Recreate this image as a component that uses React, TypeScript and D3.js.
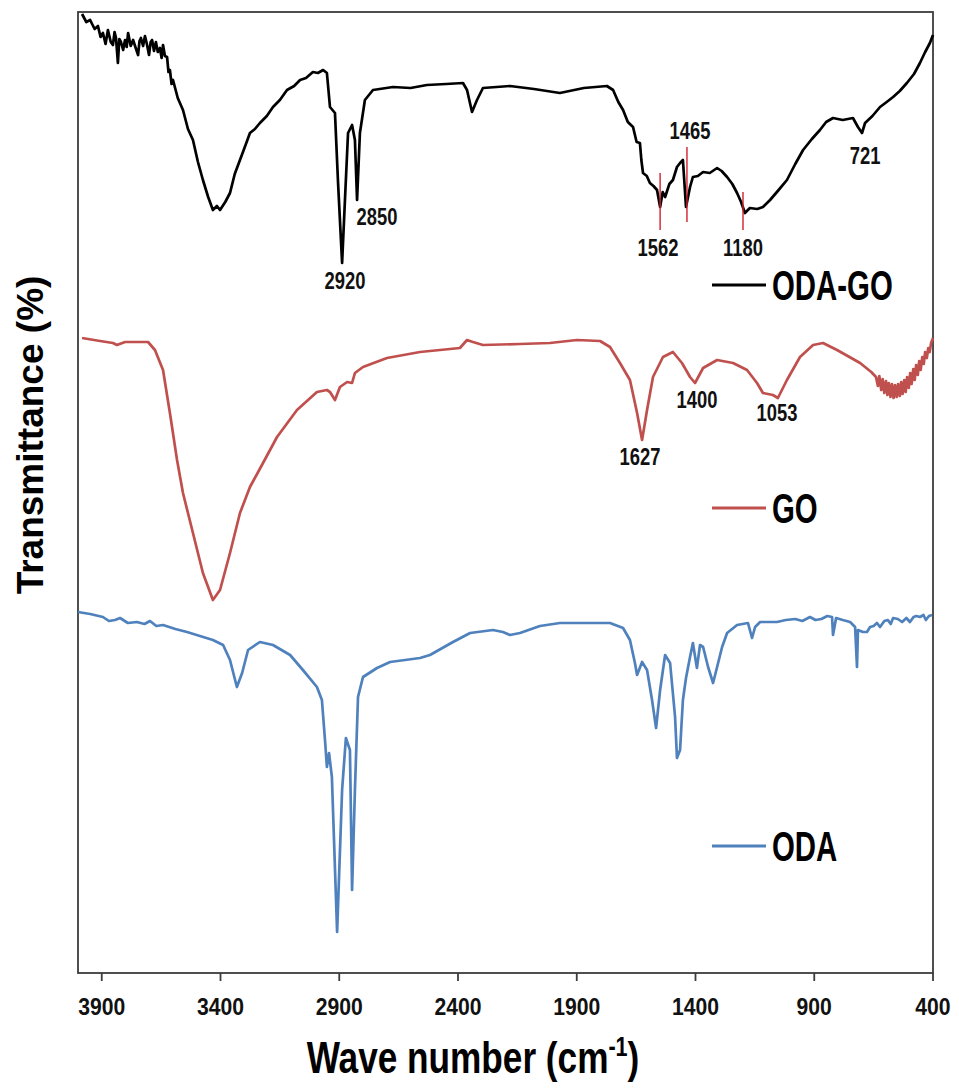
import * as d3 from "d3";

// wavenumber (cm-1), transmittance (offset, arbitrary units)
const odaGo: [number, number][] = [
  [3983, 95.8], [3965, 95.0], [3949, 95.2], [3930, 94.3], [3916, 94.6], [3905, 93.5],
  [3895, 93.9], [3884, 92.8], [3874, 94.2], [3862, 93.0], [3853, 92.7], [3846, 94.0],
  [3840, 93.4], [3832, 90.9], [3826, 93.3], [3819, 93.0], [3810, 92.2], [3802, 93.2],
  [3795, 92.5], [3789, 93.9], [3778, 92.6], [3768, 93.2], [3757, 92.4], [3747, 91.7],
  [3741, 93.1], [3735, 93.4], [3726, 92.6], [3718, 93.6], [3710, 92.8], [3701, 91.7],
  [3694, 93.0], [3688, 93.2], [3680, 92.1], [3672, 93.0], [3664, 92.0], [3655, 92.4],
  [3648, 91.4], [3642, 92.7], [3634, 91.6], [3625, 91.5], [3619, 90.0], [3613, 90.2],
  [3606, 88.8], [3600, 89.2], [3580, 87.4], [3558, 86.2], [3537, 84.3], [3516, 83.2],
  [3495, 81.0], [3474, 79.2], [3452, 77.5], [3432, 76.2], [3415, 76.6], [3402, 76.2],
  [3380, 77.0], [3360, 77.9], [3340, 79.8], [3318, 81.2], [3296, 82.6], [3276, 83.9],
  [3255, 84.3], [3234, 84.9], [3205, 85.6], [3179, 86.5], [3150, 87.2], [3120, 88.2],
  [3090, 88.6], [3065, 89.2], [3040, 89.4], [3011, 90.0], [2990, 89.9], [2968, 90.2],
  [2952, 89.9], [2939, 86.5], [2918, 85.9], [2905, 78.9], [2888, 70.9], [2876, 77.2],
  [2863, 83.9], [2846, 84.7], [2834, 83.2], [2825, 77.2], [2813, 83.9], [2792, 87.2],
  [2758, 88.2], [2674, 88.5], [2600, 88.4], [2531, 88.7], [2450, 88.8], [2379, 88.9],
  [2362, 88.2], [2341, 86.0], [2320, 87.2], [2295, 88.4], [2181, 88.6], [2080, 88.3],
  [1971, 87.9], [1870, 88.4], [1773, 88.6], [1747, 88.2], [1725, 87.0], [1705, 86.2],
  [1685, 85.0], [1663, 84.5], [1648, 83.0], [1634, 82.9], [1628, 81.2], [1621, 79.9],
  [1605, 79.6], [1592, 78.9], [1577, 78.6], [1562, 78.2], [1549, 76.5], [1538, 78.0],
  [1528, 77.5], [1510, 78.8], [1495, 79.2], [1478, 80.5], [1465, 80.9], [1453, 81.2],
  [1440, 76.5], [1423, 78.5], [1411, 79.5], [1390, 79.6], [1368, 80.0], [1340, 79.9],
  [1309, 80.4], [1290, 80.1], [1267, 79.5], [1245, 78.8], [1225, 77.9], [1208, 77.0],
  [1192, 75.9], [1171, 76.4], [1140, 76.3], [1116, 76.5], [1086, 77.2], [1050, 78.2],
  [1015, 79.2], [980, 80.8], [947, 82.2], [910, 83.3], [876, 84.2], [850, 85.0],
  [821, 85.4], [780, 85.2], [737, 85.4], [716, 84.5], [699, 83.9], [686, 84.9],
  [655, 85.6], [623, 86.5], [595, 87.0], [568, 87.5], [540, 88.1], [510, 88.9],
  [480, 89.8], [455, 90.9], [433, 92.0], [413, 92.9], [400, 93.7],
];

const go: [number, number][] = [
  [3983, 63.4], [3907, 63.1], [3853, 62.9], [3836, 62.7], [3802, 63.0], [3752, 63.0],
  [3705, 63.0], [3676, 62.2], [3642, 60.2], [3613, 55.9], [3583, 51.2], [3558, 47.9],
  [3516, 43.9], [3474, 39.9], [3432, 37.2], [3402, 38.2], [3360, 41.9], [3318, 45.9],
  [3276, 48.5], [3221, 50.9], [3162, 53.5], [3078, 56.2], [2994, 58.0], [2952, 58.2],
  [2939, 58.0], [2918, 57.2], [2897, 58.5], [2867, 59.0], [2846, 58.9], [2834, 59.9],
  [2800, 60.5], [2699, 61.4], [2560, 62.0], [2392, 62.4], [2362, 63.2], [2337, 63.0],
  [2295, 62.7], [2139, 62.8], [2013, 62.9], [1899, 63.2], [1802, 63.1], [1760, 62.5],
  [1718, 60.9], [1676, 59.2], [1646, 55.9], [1625, 53.2], [1604, 56.2], [1579, 59.5],
  [1537, 61.5], [1495, 62.0], [1457, 60.9], [1423, 59.5], [1402, 58.9], [1368, 60.4],
  [1309, 61.2], [1242, 60.9], [1183, 60.2], [1141, 58.9], [1116, 57.9], [1074, 57.7],
  [1053, 57.4], [1015, 59.2], [960, 61.5], [905, 62.7], [863, 62.9], [804, 62.2],
  [707, 60.9], [660, 60.0], [640, 59.5], [632, 58.6], [626, 59.6], [618, 58.2],
  [612, 59.3], [605, 57.9], [598, 59.1], [592, 57.7], [586, 58.9], [579, 57.5],
  [573, 58.8], [566, 57.4], [560, 58.7], [553, 57.5], [547, 58.8], [540, 57.6],
  [534, 59.0], [528, 57.8], [521, 59.2], [515, 58.0], [509, 59.5], [502, 58.4],
  [496, 59.9], [490, 58.8], [483, 60.3], [477, 59.2], [471, 60.7], [464, 59.7],
  [458, 61.1], [452, 60.2], [445, 61.5], [439, 60.8], [433, 62.0], [426, 61.4],
  [420, 62.4], [414, 62.0], [408, 62.9], [400, 63.4],
];

const oda: [number, number][] = [
  [4000, 36.0], [3949, 35.8], [3895, 35.5], [3870, 35.1], [3844, 35.2], [3823, 35.4],
  [3790, 34.9], [3752, 35.0], [3720, 34.8], [3697, 35.1], [3670, 34.6], [3642, 34.7],
  [3590, 34.3], [3541, 34.0], [3432, 33.2], [3389, 32.7], [3360, 31.2], [3331, 28.5],
  [3309, 29.9], [3284, 32.2], [3234, 33.0], [3179, 32.7], [3107, 31.7], [3053, 30.2],
  [2994, 28.5], [2973, 27.2], [2960, 23.2], [2952, 20.5], [2943, 21.9], [2931, 19.5],
  [2909, 4.0], [2888, 18.2], [2872, 23.4], [2855, 22.2], [2846, 8.2], [2834, 18.2],
  [2821, 27.5], [2800, 29.5], [2741, 30.4], [2686, 31.0], [2560, 31.4], [2518, 31.7],
  [2421, 33.0], [2349, 33.9], [2253, 34.2], [2211, 34.0], [2181, 33.7], [2139, 33.9],
  [2055, 34.6], [1971, 34.9], [1760, 34.9], [1705, 34.4], [1676, 33.2], [1655, 30.9],
  [1646, 29.7], [1625, 31.0], [1604, 30.2], [1583, 27.2], [1566, 24.4], [1549, 28.2],
  [1528, 31.7], [1507, 30.9], [1486, 25.5], [1478, 21.4], [1465, 22.2], [1453, 27.2],
  [1440, 29.4], [1423, 31.5], [1411, 32.9], [1394, 30.4], [1381, 32.7], [1368, 32.5],
  [1347, 30.5], [1326, 28.9], [1309, 30.5], [1288, 32.5], [1267, 33.9], [1225, 34.7],
  [1179, 34.9], [1162, 33.4], [1149, 34.5], [1128, 35.0], [1057, 35.0], [1020, 35.2],
  [980, 35.3], [950, 35.1], [918, 35.5], [895, 35.2], [870, 35.3], [845, 35.6],
  [825, 35.5], [821, 33.7], [808, 35.4], [780, 35.2], [749, 35.0], [728, 34.5],
  [720, 30.5], [716, 34.2], [695, 34.0], [678, 34.0], [665, 34.5], [650, 34.6],
  [636, 34.9], [623, 34.5], [605, 35.1], [590, 35.2], [578, 34.8], [568, 35.4],
  [548, 35.3], [530, 35.0], [512, 35.4], [497, 35.0], [482, 35.5], [470, 35.6],
  [455, 35.5], [440, 35.7], [430, 35.2], [417, 35.6], [404, 35.7],
];

const xTicks = [3900, 3400, 2900, 2400, 1900, 1400, 900, 400];

// peak labels: text, wavenumber of label centre, baseline value
const peakLabels: [string, number, number][] = [
  ["2850", 2741, 74.7], ["2920", 2876, 68.3], ["1562", 1558, 71.6], ["1465", 1423, 83.3],
  ["1180", 1200, 71.6], ["721", 686, 80.8],
  ["1627", 1634, 50.7], ["1400", 1394, 56.4], ["1053", 1057, 55.1],
];

// red marker ticks on ODA-GO: wavenumber, from, to
const markers: [number, number, number][] = [
  [1549, 74.2, 79.9], [1436, 75.0, 82.5], [1200, 74.2, 78.0],
];

const seriesNames = ["ODA-GO", "GO", "ODA"];
const seriesColors = ["#000000", "#C0504D", "#4F81BD"];
const legendY = [285, 508, 846];

const W = 959;
const H = 1088;
const FONT = "'Liberation Sans', Arial, sans-serif";

export default function App() {
  const x = d3.scaleLinear().domain([4000, 400]).range([78, 933]);
  const y = d3.scaleLinear().domain([0, 96]).range([972, 12]);
  const line = d3
    .line<[number, number]>()
    .x((d) => x(d[0]))
    .y((d) => y(d[1]));

  const series = [odaGo, go, oda];

  return (
    <svg
      width={W}
      height={H}
      style={{ position: "absolute", left: 0, top: 0, background: "#fff" }}
      fontFamily={FONT}
    >
      {/* frame */}
      <rect x={78} y={12} width={855} height={961} fill="none" stroke="#3c3c3c" strokeWidth={1.8} />

      {/* x ticks */}
      {xTicks.map((t) => (
        <g key={t} transform={`translate(${x(t)},973)`}>
          <line y2={8} stroke="#3c3c3c" strokeWidth={1.8} />
          <text
            transform="translate(0,42) scale(0.92,1)"
            textAnchor="middle"
            fontSize={23}
            fontWeight="bold"
            fill="#111"
          >
            {t}
          </text>
        </g>
      ))}

      {/* curves */}
      {series.map((s, i) => (
        <path
          key={seriesNames[i]}
          d={line(s) ?? ""}
          fill="none"
          stroke={seriesColors[i]}
          strokeWidth={2.7}
          strokeLinejoin="round"
        />
      ))}

      {/* red markers */}
      {markers.map(([wn, a, b]) => (
        <line key={wn} x1={x(wn)} x2={x(wn)} y1={y(a)} y2={y(b)} stroke="#d0202a" strokeWidth={1.4} />
      ))}

      {/* peak labels */}
      {peakLabels.map(([t, wn, v]) => (
        <text
          key={t}
          transform={`translate(${x(wn)},${y(v)}) scale(0.8,1)`}
          textAnchor="middle"
          fontSize={23}
          fontWeight="bold"
          fill="#111"
        >
          {t}
        </text>
      ))}

      {/* legend */}
      {seriesNames.map((n, i) => (
        <g key={n}>
          <line x1={712} x2={766} y1={legendY[i]} y2={legendY[i]} stroke={seriesColors[i]} strokeWidth={3} />
          <text
            transform={`translate(772,${legendY[i] + 15}) scale(0.7,1)`}
            fontSize={42}
            fontWeight="bold"
            fill="#000"
          >
            {n}
          </text>
        </g>
      ))}

      {/* axis titles */}
      <text
        transform="translate(473,1073) scale(0.8,1)"
        textAnchor="middle"
        fontSize={44}
        fontWeight="bold"
        fill="#000"
      >
        Wave number (cm
        <tspan fontSize={27} dy={-17}>-1</tspan>
        <tspan dy={17}>)</tspan>
      </text>
      <text
        transform="translate(43,435) rotate(-90)"
        textAnchor="middle"
        fontSize={37}
        fontWeight="bold"
        fill="#000"
      >
        Transmittance (%)
      </text>
    </svg>
  );
}
